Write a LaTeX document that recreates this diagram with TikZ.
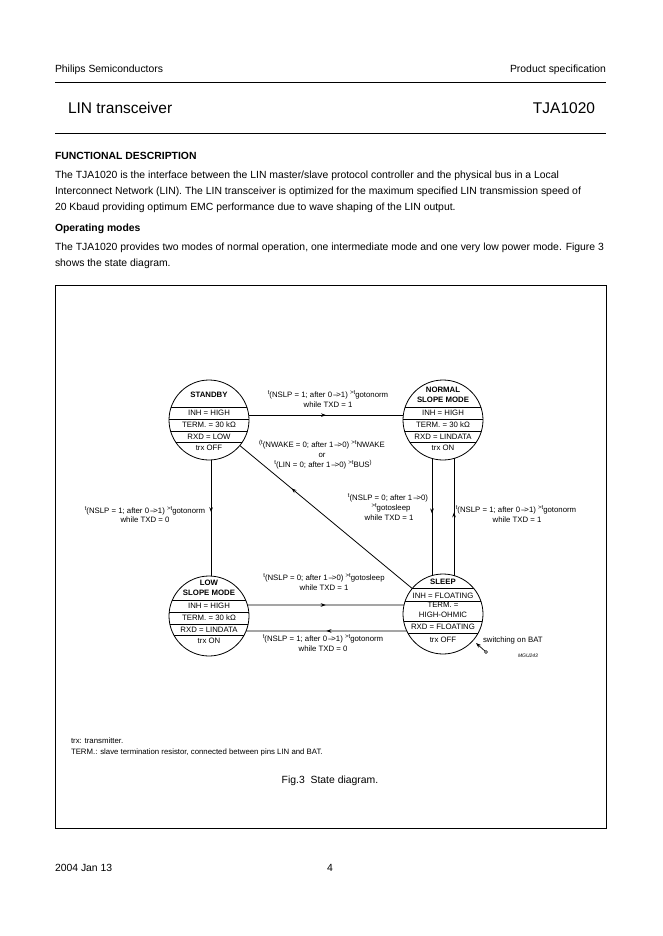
\documentclass[tikz,border=0pt]{standalone}
\usepackage{fontspec}
\setmainfont{Liberation Sans}
\usetikzlibrary{arrows.meta,decorations.markings,calc}
\newcommand\hi[1]{\raisebox{0.42em}{\fontsize{6}{6}\selectfont #1}}
\newcommand\tto{\,\textendash\kern-1.3pt>}
\begin{document}
\begin{tikzpicture}[x=1pt,y=-1pt,
  every node/.style={inner sep=0pt,outer sep=0pt},
  state/.style={circle,draw,line width=0.8pt,minimum size=80pt},
  chord/.style={line width=0.7pt},
  ct/.style={font=\fontsize{7.8}{9}\selectfont,anchor=base},
  ctb/.style={font=\fontsize{7.8}{9}\selectfont\bfseries,anchor=base},
  lb/.style={font=\fontsize{7.8}{9}\selectfont,anchor=base},
  conn/.style={line width=0.8pt,postaction={decorate},
    decoration={markings,mark=at position #1 with {\arrow{Stealth[length=5pt,width=3.6pt]}}}},
  conn/.default=0.5,
  bodytxt/.style={font=\fontsize{10.4}{12}\selectfont,anchor=base west},
  bodybold/.style={font=\fontsize{10.4}{12}\selectfont\bfseries,anchor=base west},
  rule/.style={line width=0.9pt}]
\useasboundingbox[fill=white] (0,0) rectangle (662,936);

% ---------- page header ----------
\node[bodytxt] (hdl) at (55,72.5) {Philips Semiconductors};
\node[bodytxt,anchor=base east] (hdr) at (606,72.5) {Product specification};
\draw[rule] (55,82) -- (606,82);
\node[font=\fontsize{15.5}{18}\selectfont,anchor=base west] (title) at (68,113.5) {LIN transceiver};
\node[font=\fontsize{15.5}{18}\selectfont,anchor=base east] (part) at (595,113.5) {TJA1020};
\draw[rule] (55,133) -- (606,133);

% ---------- body text ----------
\node[bodybold] (h1) at (55,159.7) {FUNCTIONAL DESCRIPTION};
\node[bodytxt] (p1a) at (55,178.5) {The TJA1020 is the interface between the LIN master/slave protocol controller and the physical bus in a Local};
\node[bodytxt] (p1b) at (55,194.5) {Interconnect Network (LIN). The LIN transceiver is optimized for the maximum specified LIN transmission speed of};
\node[bodytxt] (p1c) at (55,210.5) {20 Kbaud providing optimum EMC performance due to wave shaping of the LIN output.};
\node[bodybold] (h2) at (55,231.5) {Operating modes};
\node[bodytxt] (p2a) at (55,250.5) {The TJA1020 provides two modes of normal operation, one intermediate mode and one very low power mode. Figure 3};
\node[bodytxt] (p2b) at (55,266.5) {shows the state diagram.};

% ---------- figure frame ----------
\draw[line width=0.9pt] (55,285) rectangle (606,828);

% ---------- STANDBY ----------
\node[state] (ST) at (209,420) {};
\begin{scope}
  \clip (209,420) circle[radius=40];
  \foreach \yy in {407,419,431,442} \draw[chord] (160,\yy) -- (260,\yy);
\end{scope}
\node[ctb] (ST-t) at (209,397.7) {STANDBY};
\node[ct] (ST-a) at (209,415.7) {INH = HIGH};
\node[ct] (ST-b) at (209,427.7) {TERM. = 30 kΩ};
\node[ct] (ST-c) at (209,439.7) {RXD = LOW};
\node[ct] (ST-d) at (209,450.7) {trx OFF};

% ---------- NORMAL SLOPE MODE ----------
\node[state] (NO) at (443,420) {};
\begin{scope}
  \clip (443,420) circle[radius=40];
  \foreach \yy in {407,419,431,442} \draw[chord] (395,\yy) -- (495,\yy);
\end{scope}
\node[ctb] (NO-t1) at (443,392.7) {NORMAL};
\node[ctb] (NO-t2) at (443,402.7) {SLOPE MODE};
\node[ct] (NO-a) at (443,415.7) {INH = HIGH};
\node[ct] (NO-b) at (443,427.7) {TERM. = 30 kΩ};
\node[ct] (NO-c) at (443,439.7) {RXD = LINDATA};
\node[ct] (NO-d) at (443,450.7) {trx ON};

% ---------- LOW SLOPE MODE ----------
\node[state] (LO) at (209,616) {};
\begin{scope}
  \clip (209,616) circle[radius=40];
  \foreach \yy in {600,612,624,635} \draw[chord] (160,\yy) -- (260,\yy);
\end{scope}
\node[ctb] (LO-t1) at (209,585.7) {LOW};
\node[ctb] (LO-t2) at (209,595.7) {SLOPE MODE};
\node[ct] (LO-a) at (209,608.7) {INH = HIGH};
\node[ct] (LO-b) at (209,620.7) {TERM. = 30 kΩ};
\node[ct] (LO-c) at (209,632.7) {RXD = LINDATA};
\node[ct] (LO-d) at (209,643.7) {trx ON};

% ---------- SLEEP ----------
\node[state] (SL) at (443,614) {};
\begin{scope}
  \clip (443,614) circle[radius=40];
  \foreach \yy in {588,601,621,633} \draw[chord] (395,\yy) -- (495,\yy);
\end{scope}
\node[ctb] (SL-t) at (443,584.7) {SLEEP};
\node[ct] (SL-a) at (443,598.7) {INH = FLOATING};
\node[ct] (SL-b1) at (443,607.7) {TERM. =};
\node[ct] (SL-b2) at (443,617.7) {HIGH-OHMIC};
\node[ct] (SL-c) at (443,629.7) {RXD = FLOATING};
\node[ct] (SL-d) at (443,642.7) {trx OFF};

% ---------- transitions ----------
\draw[conn] (ST.7) -- (NO.173);
\draw[conn=0.45] (ST.-87) -- (LO.87);
\draw[conn=0.47] (NO.-106) -- (SL.106);
\draw[conn=0.54] (SL.74) -- (NO.-74);
\draw[conn=0.7] (SL) -- (ST);
\draw[conn] (LO.16) -- (SL.167);
\draw[conn] (SL.205) -- (LO.-22);

% switching on BAT
\node[circle,draw,line width=0.5pt,minimum size=3pt] (bat) at (486,652) {};
\coordinate (battip) at (476,643);
\draw[line width=0.7pt,-{Stealth[length=5pt,width=3.6pt]}] (bat) -- (battip);
\node[lb,anchor=base west] (batl) at (483,642.7) {switching on BAT};
\node[font=\fontsize{5}{6}\selectfont\itshape,anchor=base] (mgu) at (528,657) {MGU243};

% ---------- transition labels ----------
\node[lb] (L1a) at (328,397.7) {\hi{t}(NSLP = 1; after 0\tto1) \hi{>t}gotonorm};
\node[lb] (L1b) at (328,407.7) {while TXD = 1};

\node[lb] (L2a) at (322,447.7) {\hi{(t}(NWAKE = 0; after 1\tto0) \hi{>t}NWAKE};
\node[lb] (L2b) at (322,457.7) {or};
\node[lb] (L2c) at (323,467.7) {\hi{t}(LIN = 0; after 1\tto0) \hi{>t}BUS\hi{)}};

\node[lb] (L3a) at (145,513.7) {\hi{t}(NSLP = 1; after 0\tto1) \hi{>t}gotonorm};
\node[lb] (L3b) at (145,522.7) {while TXD = 0};

\node[lb] (L4a) at (388,500.7) {\hi{t}(NSLP = 0; after 1\tto0)};
\node[lb] (L4b) at (391,510.7) {\hi{>t}gotosleep};
\node[lb] (L4c) at (389,520.7) {while TXD = 1};

\node[lb] (L5a) at (516,512.7) {\hi{t}(NSLP = 1; after 0\tto1) \hi{>t}gotonorm};
\node[lb] (L5b) at (517,522.7) {while TXD = 1};

\node[lb] (L6a) at (324,580.7) {\hi{t}(NSLP = 0; after 1\tto0) \hi{>t}gotosleep};
\node[lb] (L6b) at (324,590.7) {while TXD = 1};

\node[lb] (L7a) at (323,641.7) {\hi{t}(NSLP = 1; after 0\tto1) \hi{>t}gotonorm};
\node[lb] (L7b) at (323,651.7) {while TXD = 0};

% ---------- notes and caption ----------
\node[lb,anchor=base west] (n1) at (71,743.7) {trx: transmitter.};
\node[lb,anchor=base west] (n2) at (71,754.7) {TERM.: slave termination resistor, connected between pins LIN and BAT.};
\node[font=\fontsize{10.4}{12}\selectfont,anchor=base] (cap) at (330,783.5) {Fig.3\ \ State diagram.};

% ---------- footer ----------
\node[bodytxt] (f1) at (55,871.5) {2004 Jan 13};
\node[font=\fontsize{10.4}{12}\selectfont,anchor=base] (f2) at (330,871.5) {4};
\end{tikzpicture}
\end{document}
